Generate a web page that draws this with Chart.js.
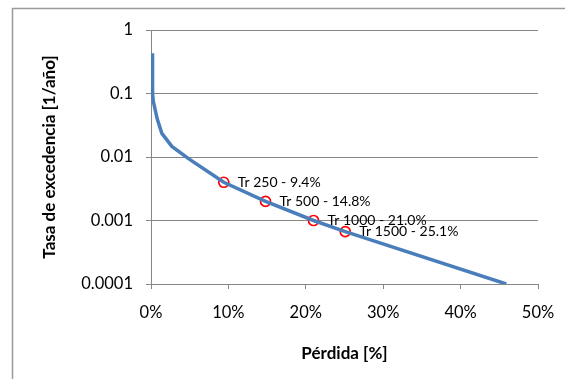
<!DOCTYPE html>
<html>
<head>
<meta charset="utf-8">
<script src="https://cdn.jsdelivr.net/npm/chart.js@4.4.1/dist/chart.umd.min.js"></script>
<style>
  html, body { margin: 0; padding: 0; background: #fff; }
  #wrap { width: 565px; height: 379px; }
</style>
</head>
<body>
<div id="wrap"><canvas id="chart" width="565" height="379"></canvas></div>
<script>
// curve: loss [%] vs annual exceedance rate [1/año]
const lossPct = [0.15, 0.2, 0.3, 0.8, 1.4, 2.7, 4.8, 9.4, 14.8, 21.0, 25.1, 45.9];
const exceedRate = [0.43, 0.1, 0.075, 0.04, 0.0236, 0.0147, 0.0095, 0.004, 0.002, 0.001, 0.000667, 0.0001];

// marked return periods
const returnPeriods = [250, 500, 1000, 1500];
const markerLoss = [9.4, 14.8, 21.0, 25.1];
const markerRate = [1 / 250, 1 / 500, 1 / 1000, 1 / 1500];

const yTickValues = [0.0001, 0.001, 0.01, 0.1, 1];
const yTickLabels = ['0.0001', '0.001', '0.01', '0.1', '1'];
const xTickValues = [0, 10, 20, 30, 40, 50];

const FONT = "'Lato', 'Open Sans', sans-serif";
const GRID = '#868686';

const curvePoints = lossPct.map((x, i) => ({ x: x, y: exceedRate[i] }));
const markerPoints = markerLoss.map((x, i) => ({ x: x, y: markerRate[i] }));
const markerLabels = returnPeriods.map((rp, i) => 'Tr ' + rp + ' - ' + markerLoss[i].toFixed(1) + '%');

const frame = {
  id: 'frame',
  beforeDraw(chart) {
    const ctx = chart.ctx;
    ctx.save();
    ctx.strokeStyle = '#9a9a9a';
    ctx.lineWidth = 1.5;
    ctx.beginPath();
    ctx.moveTo(12.5, 379);
    ctx.lineTo(12.5, 8.5);
    ctx.lineTo(565, 8.5);
    ctx.stroke();
    ctx.restore();
  }
};

const pointLabels = {
  id: 'pointLabels',
  afterDatasetsDraw(chart) {
    const ctx = chart.ctx;
    const meta = chart.getDatasetMeta(1);
    ctx.save();
    ctx.font = '14px ' + FONT;
    ctx.fillStyle = '#000';
    ctx.textAlign = 'left';
    ctx.textBaseline = 'middle';
    meta.data.forEach((pt, i) => {
      ctx.fillText(markerLabels[i], pt.x + 14, pt.y);
    });
    ctx.restore();
  }
};

new Chart(document.getElementById('chart').getContext('2d'), {
  type: 'line',
  data: {
    datasets: [
      {
        label: 'Curva',
        data: curvePoints,
        borderColor: '#4a7ebb',
        borderWidth: 3.5,
        pointRadius: 0,
        tension: 0,
        fill: false
      },
      {
        label: 'Tr',
        data: markerPoints,
        showLine: false,
        pointRadius: 5,
        pointBorderWidth: 1.7,
        pointBorderColor: '#ff0000',
        pointBackgroundColor: '#ffffff'
      }
    ]
  },
  options: {
    responsive: false,
    animation: false,
    layout: { padding: { left: 0, top: 30, right: 27, bottom: 0 } },
    plugins: {
      legend: { display: false },
      tooltip: { enabled: false }
    },
    scales: {
      x: {
        type: 'linear',
        min: 0,
        max: 50,
        afterFit(scale) {
          scale.height = 95;
          scale.paddingLeft = 0;
          scale.paddingRight = 0;
        },
        afterBuildTicks(scale) { scale.ticks = xTickValues.map(v => ({ value: v })); },
        border: { display: true, color: GRID, width: 1 },
        grid: { drawOnChartArea: false, drawTicks: true, tickLength: 5, color: GRID },
        ticks: {
          padding: 14,
          color: '#000',
          font: { family: FONT, size: 16.5 },
          callback: v => v + '%'
        },
        title: {
          display: true,
          text: 'Pérdida [%]',
          color: '#000',
          font: { family: FONT, size: 17, weight: 'bold' },
          padding: { top: 0, bottom: 15 }
        }
      },
      y: {
        type: 'logarithmic',
        min: 0.0001,
        max: 1,
        afterFit(scale) {
          scale.width = 151;
          scale.paddingTop = 0;
          scale.paddingBottom = 0;
        },
        afterBuildTicks(scale) { scale.ticks = yTickValues.map(v => ({ value: v, major: true })); },
        border: { display: true, color: GRID, width: 1 },
        grid: { drawOnChartArea: true, drawTicks: true, tickLength: 5, color: GRID },
        ticks: {
          padding: 13,
          color: '#000',
          font: { family: FONT, size: 16.5 },
          callback: (v, i) => yTickLabels[i]
        },
        title: {
          display: true,
          text: 'Tasa de excedencia [1/año]',
          color: '#000',
          font: { family: FONT, size: 17, weight: 'bold' },
          padding: { top: 39, bottom: 0 }
        }
      }
    }
  },
  plugins: [frame, pointLabels]
});
</script>
</body>
</html>
